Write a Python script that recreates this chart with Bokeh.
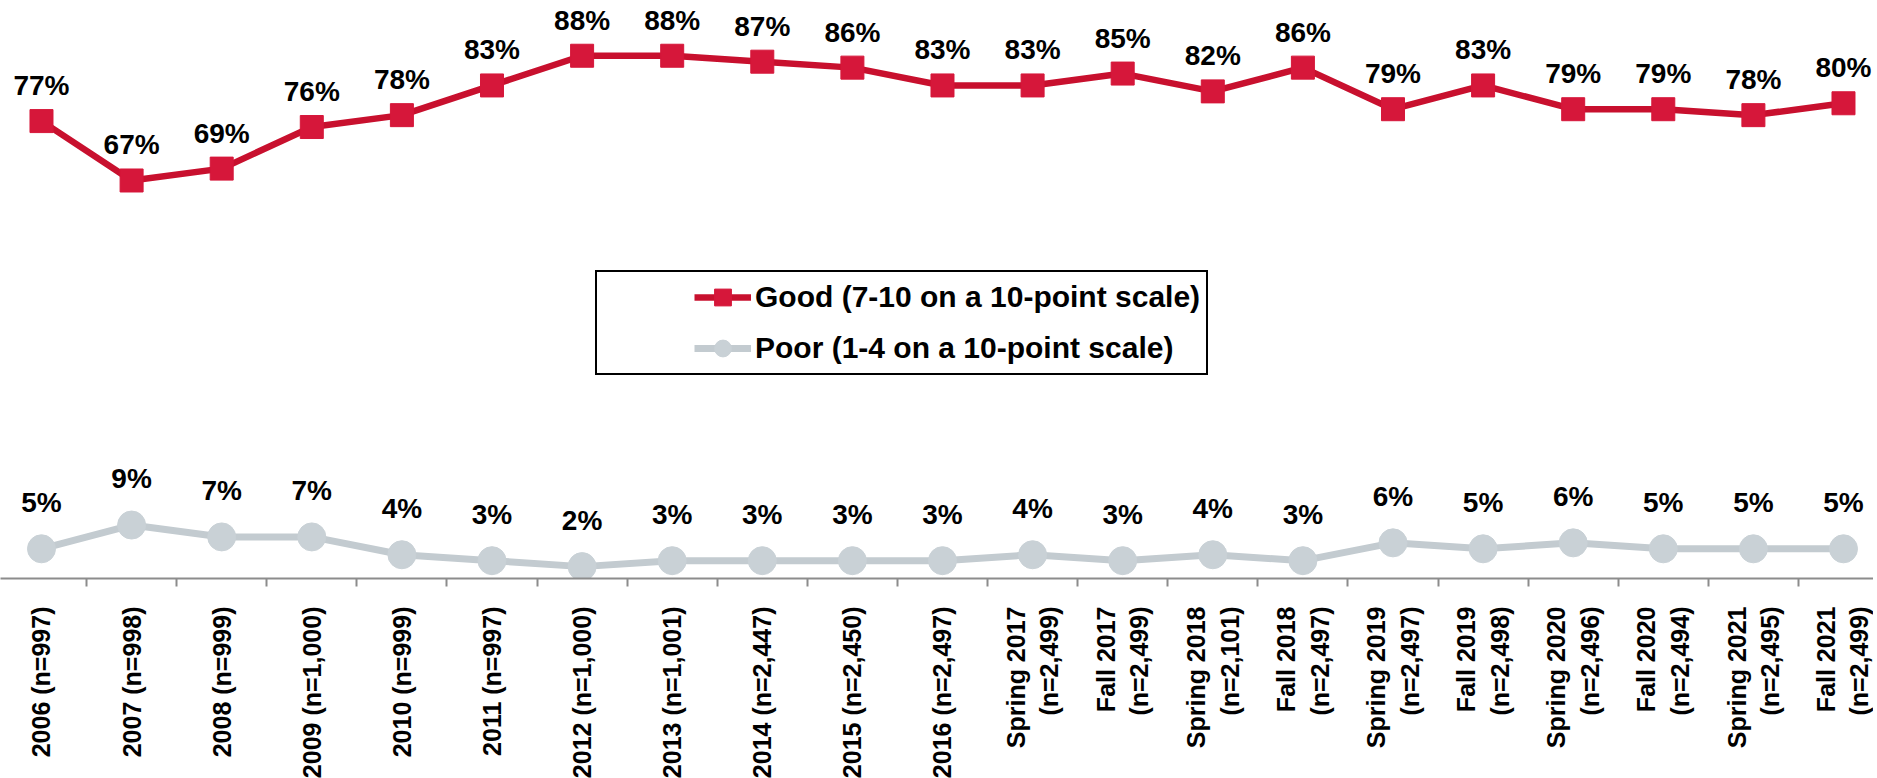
import math
from bokeh.plotting import figure
from bokeh.models import (Range1d, FixedTicker, LabelSet, ColumnDataSource,
                          Legend, LegendItem)
from bokeh.core.properties import value
from bokeh.embed import file_html
from bokeh.resources import INLINE

categories = ["2006 (n=997)", "2007 (n=998)", "2008 (n=999)", "2009 (n=1,000)",
              "2010 (n=999)", "2011 (n=997)", "2012 (n=1,000)", "2013 (n=1,001)",
              "2014 (n=2,447)", "2015 (n=2,450)", "2016 (n=2,497)",
              "Spring 2017\n(n=2,499)", "Fall 2017\n(n=2,499)",
              "Spring 2018\n(n=2,101)", "Fall 2018\n(n=2,497)",
              "Spring 2019\n(n=2,497)", "Fall 2019\n(n=2,498)",
              "Spring 2020\n(n=2,496)", "Fall 2020\n(n=2,494)",
              "Spring 2021\n(n=2,495)", "Fall 2021\n(n=2,499)"]
good = [77, 67, 69, 76, 78, 83, 88, 88, 87, 86, 83, 83, 85, 82, 86, 79, 83, 79, 79, 78, 80]
poor = [5, 9, 7, 7, 4, 3, 2, 3, 3, 3, 3, 4, 3, 4, 3, 6, 5, 6, 5, 5, 5]
good_name = "Good (7-10 on a 10-point scale)"
poor_name = "Poor (1-4 on a 10-point scale)"

FONT = "Liberation Sans"
RED_LINE = "#C8102E"
RED_MARK = "#D6173A"
GRAY_LINE = "#C3CBD0"
GRAY_MARK = "#C9D1D6"

xs = list(range(len(categories)))
src = ColumnDataSource(dict(
    x=xs, good=good, poor=poor,
    good_lbl=[f"{v}%" for v in good],
    poor_lbl=[f"{v}%" for v in poor],
))

p = figure(frame_width=1873, frame_height=578,
           x_range=Range1d(-0.455, 20.333), y_range=Range1d(0, 97.3),
           output_backend="svg", toolbar_location=None,
           min_border_left=0, min_border_right=0, min_border_top=0,
           min_border_bottom=0, y_axis_location=None)
p.outline_line_color = None
p.xgrid.visible = False
p.ygrid.visible = False
p.background_fill_color = "white"
p.border_fill_color = "white"

ax = p.xaxis[0]
ax.ticker = FixedTicker(ticks=xs, minor_ticks=[i + 0.5 for i in xs[:-1]])
ax.major_label_overrides = {i: c for i, c in enumerate(categories)}
ax.major_label_orientation = math.pi / 2
ax.major_label_text_font = FONT
ax.major_label_text_font_size = "25px"
ax.major_label_text_font_style = "bold"
ax.major_label_text_color = "black"
ax.major_label_standoff = 20
ax.axis_line_color = "#8C8C8C"
ax.axis_line_width = 2
ax.major_tick_out = 0
ax.major_tick_in = 0
ax.minor_tick_out = 8
ax.minor_tick_in = 0
ax.minor_tick_line_color = "#8C8C8C"
ax.minor_tick_line_width = 2

rl = p.line("x", "good", source=src, line_color=RED_LINE, line_width=6.5)
rs = p.scatter("x", "good", source=src, marker="square", size=23,
               fill_color=RED_MARK, line_color=RED_MARK)
gl = p.line("x", "poor", source=src, line_color=GRAY_LINE, line_width=7)
gs = p.scatter("x", "poor", source=src, marker="circle", size=28,
               fill_color=GRAY_MARK, line_color=GRAY_MARK)

p.add_layout(LabelSet(x="x", y="good", text="good_lbl", source=src,
                      y_offset=26, text_align="center", text_baseline="alphabetic",
                      text_font=value(FONT), text_font_size="28px",
                      text_font_style="bold", text_color="black"))
p.add_layout(LabelSet(x="x", y="poor", text="poor_lbl", source=src,
                      y_offset=37, text_align="center", text_baseline="alphabetic",
                      text_font=value(FONT), text_font_size="28px",
                      text_font_style="bold", text_color="black"))

legend = Legend(items=[LegendItem(label=good_name, renderers=[rl, rs]),
                       LegendItem(label=poor_name, renderers=[gl, gs])],
                location=(595, 203), orientation="vertical",
                title=" ", title_location="left", title_standoff=92,
                title_text_font_size="1px",
                border_line_color="black", border_line_width=2, border_line_alpha=1,
                background_fill_color="white", background_fill_alpha=1,
                label_text_font=FONT, label_text_font_size="30px",
                label_text_font_style="bold", label_text_color="black",
                glyph_width=57, glyph_height=42, label_height=42, label_width=447,
                label_standoff=4, spacing=9, padding=4, margin=0)
p.add_layout(legend)

open("out.html", "w").write(file_html(p, INLINE))
